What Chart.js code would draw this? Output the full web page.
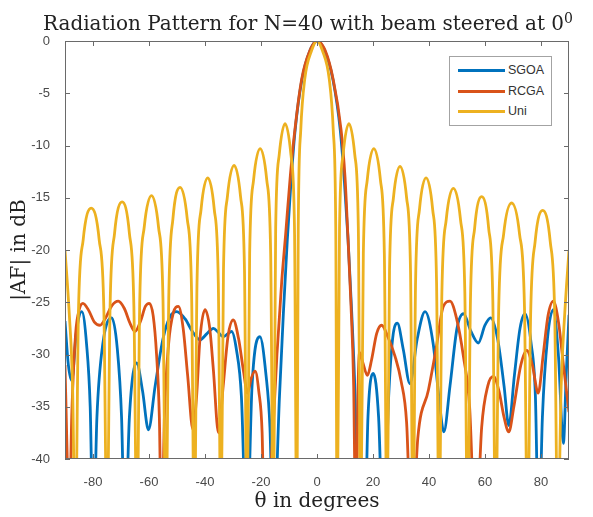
<!DOCTYPE html>
<html>
<head>
<meta charset="utf-8">
<title>Radiation Pattern for N=40</title>
<script src="https://cdn.jsdelivr.net/npm/chart.js@4.4.1/dist/chart.umd.min.js"></script>
<style>
  html, body { margin: 0; padding: 0; background: #fff; }
  #wrap { position: relative; width: 593px; height: 517px; }
  #chart { position: absolute; left: 0; top: 0; }
  .title {
    position: absolute; left: 20px; top: 11px; width: 576px; text-align: center;
    font: 20px/24px "DejaVu Serif", "Liberation Serif", serif; color: #222; white-space: nowrap;
  }
  .title sup { font-size: 14px; line-height: 0; vertical-align: 7px; }
  .legend {
    position: absolute; left: 449px; top: 56px; width: 103px; height: 70px;
    box-sizing: border-box; border: 1px solid #a3a3a3; background: #fff;
    font: 12.5px "Liberation Sans", Arial, sans-serif; color: #333;
  }
  .legend .item { position: absolute; left: 8px; height: 14px; display: flex; align-items: center; }
  .legend .swatch { width: 47px; height: 3px; margin-right: 3px; }
</style>
</head>
<body>
<div id="wrap">
  <canvas id="chart" width="593" height="517"></canvas>
  <div class="title">Radiation Pattern for N=40 with beam steered at 0<sup>0</sup></div>
  <div class="legend" id="legend"></div>
</div>
<script>
// tick labels
const xTickVals = [-80, -60, -40, -20, 0, 20, 40, 60, 80];
const yTickVals = [-40, -35, -30, -25, -20, -15, -10, -5, 0];

// SGOA
const sgoaX = [-90, -88.8, -87.6, -86, -84, -82.3, -81, -79.9, -78.6, -76.5, -73.3, -71.3, -69.8, -68.6, -67, -64.4,
  -62.3, -60.2, -57.8, -55, -52.5, -50.1, -47.1, -44.5, -41.8, -39.3, -37, -35.2, -33.5, -31.8, -30.5, -28.8, -27,
  -25.1, -23.2, -20.4, -18.2, -16.8, -15.6, -13.4, -12, -10.6, -9.3, -7.8, -5.4, -2.5, 0, 2.7, 5.7, 8.3, 9.8, 11.1,
  12.4, 13.6, 14.8, 17, 18.2, 20.1, 22, 23.7, 25.6, 27, 28.7, 30.8, 33.2, 35.8, 38.6, 41.5, 43.5, 45.3, 47.5, 50,
  52.3, 55, 57.6, 60, 62, 64.5, 66.8, 68.5, 70.5, 72.5, 74.3, 76.5, 78, 79.2, 80.5, 82.3, 84.4, 86.2, 88, 89, 90];
const sgoaY = [-26.8, -31, -32.5, -28, -25.9, -29, -35, -48, -36, -29, -26.5, -29.5, -36, -48, -36, -30.8,
  -33.5, -37.2, -33, -28.5, -26.4, -25.9, -26.6, -27.8, -28.6, -28, -27.5, -27.9, -28.3, -28, -27.8, -29.5, -34,
  -48, -33, -28.3, -32, -37, -48, -34, -26, -19, -13.5, -8.5, -3.7, -0.9, 0, -0.9, -3.7, -8.5, -13.5, -19,
  -26, -34, -48, -48, -36, -31.8, -36, -48, -34, -28.5, -27, -29.5, -32.8, -28.5, -25.9, -29, -34, -37.4, -33, -27.5,
  -26.1, -27.8, -28.9, -27.2, -26.5, -28.5, -33, -36.8, -32, -27.5, -26.1, -29, -34, -48, -36, -28.5, -25.7, -30, -38.5, -32, -26.2];

// RCGA
const rcgaX = [-90, -89.2, -88.6, -87.6, -86.2, -84.8, -83.6, -81.5, -79.5, -77.5, -75.5, -73.2, -71, -68.8, -66.8,
  -65, -63, -61.3, -59.9, -58.5, -57.3, -56.3, -55.5, -54.5, -53, -51.3, -49.5, -47.8, -46.2, -44.3, -43, -41.8,
  -40, -38.3, -37, -35.2, -33.5, -31.8, -29.9, -28, -26.3, -24.8, -23.5, -22.1, -20.8, -19.6, -18.7, -16.3, -14.3,
  -12.6, -11.2, -9.5, -7.9, -5.5, -2.5, 0, 2.9, 5.8, 8.6, 10, 11, 12.1, 13.1, 13.9, 14.6, 15.2, 16.4, 18, 19.5,
  21.3, 23.1, 25.3, 27.9, 30, 32, 33.8, 36, 39.8, 42.5, 45.1, 47.5, 49.8, 52.3, 54.5, 56.7, 58.8, 61, 63, 65,
  66.8, 68.5, 70.3, 72.8, 74.9, 76.9, 79, 80.8, 82.5, 84.4, 86.3, 88, 90];
const rcgaY = [-31, -40, -48, -36, -28, -25.6, -25.1, -25.8, -26.9, -27.2, -26.5, -25.3, -24.9, -25.6, -27,
  -27.8, -26.8, -25.4, -25.1, -26.3, -30, -36, -48, -36, -29, -26, -25.4, -27.5, -32, -37.2, -34, -28.5,
  -25.7, -27.5, -31.5, -37.5, -33, -28.3, -26.7, -28.5, -31.5, -33.7, -32.3, -31.6, -33.5, -37.5, -48, -40, -30,
  -23, -18.5, -12.8, -8.5, -3.7, -0.9, 0, -0.9, -3.7, -8.5, -13, -18.5, -25, -33, -48, -34, -29.8, -30.8, -32, -30.5,
  -28, -27.2, -28.3, -30.2, -32.5, -36.5, -48, -38, -33.4, -29.5, -25.4, -24.9, -26.5, -30.2, -35, -48, -37, -33, -32.1, -33.5,
  -36, -37.4, -35, -31, -29.6, -31, -33.7, -30, -26.3, -24.9, -27, -31, -35.5];

// Uni
const uniX = [-90, -88.5, -87.3, -86.3, -85.2, -83.5, -80.65, -77.8, -76.1, -75, -73.9, -72.3, -69.6, -67, -65.4,
  -64.3, -63.3, -61.7, -59.1, -56.6, -55, -54, -52.9, -51.45, -48.9, -46.35, -44.8, -43.8, -42.85, -41.4, -39,
  -36.7, -35.25, -34.3, -33.4, -32, -29.6, -27.3, -25.9, -25, -24.05, -22.65, -20.3, -17.95, -16.55, -15.6, -14.76,
  -13.5, -11.4, -9.3, -8.04, -7.2, -6.7, -5.8, -4.4, -1.9, 0, 1.9, 4.4, 5.8, 6.7, 7.2, 8.04, 9.3, 11.4, 13.5, 14.76,
  15.6, 16.55, 17.95, 20.3, 22.65, 24.05, 25, 25.9, 27.3, 29.65, 32, 33.4, 34.3, 35.2, 36.6, 38.95, 41.3, 42.7,
  43.6, 44.6, 46.15, 48.7, 51.25, 52.8, 53.8, 54.8, 56.3, 58.8, 61.3, 62.8, 63.8, 64.9, 66.65, 69.5, 72.35, 74.1,
  75.2, 76.3, 77.9, 80.6, 83.3, 84.9, 86, 87.2, 88.5, 90];
const uniY = [-20, -26, -33, -48, -26, -19, -16, -19, -26, -48, -25.4, -18.4, -15.4, -18.4, -25.4,
  -48, -24.8, -17.8, -14.8, -17.8, -24.8, -48, -24, -17, -14, -17, -24, -48, -23.1, -16.1, -13.1,
  -16.1, -23.1, -48, -21.9, -14.9, -11.9, -14.9, -21.9, -48, -20.3, -13.3, -10.3, -13.3, -20.3, -48, -17.9,
  -10.9, -7.9, -10.9, -17.9, -48, -18, -8.5, -3.7, -0.9, 0, -0.9, -3.7, -8.5, -18, -48, -17.9, -10.9, -7.9, -10.9, -17.9,
  -48, -20.3, -13.3, -10.3, -13.3, -20.3, -48, -22, -15, -12, -15, -22, -48, -23.1, -16.1, -13.1, -16.1, -23.1,
  -48, -24.1, -17.1, -14.1, -17.1, -24.1, -48, -24.9, -17.9, -14.9, -17.9, -24.9, -48, -25.5, -18.5, -15.5, -18.5, -25.5,
  -48, -26.2, -19.2, -16.2, -19.2, -26.2, -48, -33, -26, -20];

const series = [
  { label: "SGOA", xs: sgoaX, ys: sgoaY, color: "#0072BD", order: 3 },
  { label: "RCGA", xs: rcgaX, ys: rcgaY, color: "#D95319", order: 2 },
  { label: "Uni", xs: uniX, ys: uniY, color: "#EDB120", order: 1 }
];

function toPoints(xs, ys) {
  return xs.map((x, i) => ({ x: x, y: ys[i] }));
}

// MATLAB style box with inward ticks
const boxFrame = {
  id: "boxFrame",
  afterDatasetsDraw(chart) {
    const { ctx, chartArea: a } = chart;
    const x = chart.scales.x;
    const y = chart.scales.y;
    ctx.save();
    ctx.strokeStyle = "#6a6a6a";
    ctx.lineWidth = 1;
    ctx.strokeRect(a.left + 0.5, a.top + 0.5, a.right - a.left - 1, a.bottom - a.top - 1);
    ctx.beginPath();
    x.ticks.forEach(function (t) {
      const px = Math.round(x.getPixelForValue(t.value)) + 0.5;
      ctx.moveTo(px, a.bottom); ctx.lineTo(px, a.bottom - 5);
      ctx.moveTo(px, a.top); ctx.lineTo(px, a.top + 5);
    });
    y.ticks.forEach(function (t) {
      const py = Math.round(y.getPixelForValue(t.value)) + 0.5;
      ctx.moveTo(a.left, py); ctx.lineTo(a.left + 5, py);
      ctx.moveTo(a.right, py); ctx.lineTo(a.right - 5, py);
    });
    ctx.stroke();
    ctx.restore();
  }
};

const tickFont = { family: "'Liberation Sans', Arial, sans-serif", size: 13 };
const serif = "'DejaVu Serif', 'Liberation Serif', serif";

new Chart(document.getElementById("chart"), {
  type: "line",
  data: {
    datasets: series.map(function (s) {
      return {
        label: s.label,
        data: toPoints(s.xs, s.ys),
        borderColor: s.color,
        backgroundColor: s.color,
        borderWidth: 2.8,
        pointRadius: 0,
        cubicInterpolationMode: "monotone",
        order: s.order
      };
    })
  },
  options: {
    responsive: false,
    animation: false,
    layout: { padding: { left: 0, right: 24, top: 41, bottom: 0 } },
    plugins: {
      legend: { display: false },
      tooltip: { enabled: false },
      title: { display: false }
    },
    scales: {
      x: {
        type: "linear",
        min: -90,
        max: 90,
        afterBuildTicks: function (scale) { scale.ticks = xTickVals.map((v) => ({ value: v })); },
        afterFit: function (scale) { scale.height = 58; },
        grid: { display: false },
        border: { display: false },
        ticks: { color: "#4a4a4a", font: tickFont, padding: 8, autoSkip: false, maxRotation: 0 },
        title: {
          display: true,
          text: "\u03b8 in degrees",
          color: "#222",
          font: { family: serif, size: 20 },
          padding: { top: 0, bottom: 3 }
        }
      },
      y: {
        type: "linear",
        min: -40,
        max: 0,
        afterBuildTicks: function (scale) { scale.ticks = yTickVals.map((v) => ({ value: v })); },
        afterFit: function (scale) { scale.width = 65; },
        grid: { display: false },
        border: { display: false },
        ticks: { color: "#4a4a4a", font: tickFont, padding: 7 },
        title: {
          display: true,
          text: "|AF| in dB",
          color: "#222",
          font: { family: serif, size: 20 },
          padding: { top: 8, bottom: 0 }
        }
      }
    }
  },
  plugins: [boxFrame]
});

// legend box drawn as html, placed inside the plot like the MATLAB one
const legendEl = document.getElementById("legend");
const legendTops = [6, 27, 47];
series.forEach(function (s, i) {
  const item = document.createElement("div");
  item.className = "item";
  item.style.top = legendTops[i] + "px";
  const sw = document.createElement("span");
  sw.className = "swatch";
  sw.style.background = s.color;
  const txt = document.createElement("span");
  txt.textContent = s.label;
  item.appendChild(sw);
  item.appendChild(txt);
  legendEl.appendChild(item);
});
</script>
</body>
</html>
